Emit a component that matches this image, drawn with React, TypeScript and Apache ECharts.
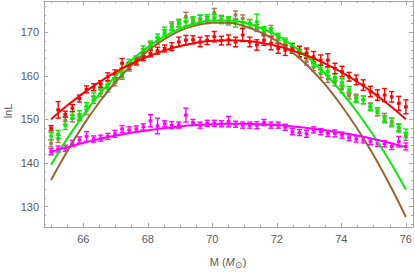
import React, { useEffect, useRef } from "react";
import * as echarts from "echarts";

// x positions of the measured points
const xs = [65.0, 65.22, 65.44, 65.66, 65.88, 66.1, 66.32, 66.54, 66.76, 66.98, 67.2, 67.42, 67.64, 67.86, 68.08, 68.3, 68.52, 68.74, 68.96, 69.18, 69.4, 69.62, 69.84, 70.06, 70.28, 70.5, 70.72, 70.94, 71.16, 71.38, 71.6, 71.82, 72.04, 72.26, 72.48, 72.7, 72.92, 73.14, 73.36, 73.58, 73.8, 74.02, 74.24, 74.46, 74.68, 74.9, 75.12, 75.34, 75.56, 75.78, 76.0];

const redY = [148.0, 152.2, 151.2, 152.6, 154.8, 156.9, 157.4, 158.1, 159.8, 160.5, 162.9, 162.3, 163.3, 164.4, 165.2, 165.8, 166.3, 166.7, 167.8, 168.2, 168.3, 167.8, 168.2, 169.0, 168.1, 168.3, 167.8, 169.4, 167.8, 167.1, 168.2, 167.5, 166.3, 165.9, 166.3, 165.6, 165.2, 164.4, 163.6, 163.6, 161.7, 161.0, 159.8, 159.1, 157.9, 156.4, 155.6, 155.6, 155.2, 153.7, 152.9];
const redE = [0.6, 1.9, 0.7, 0.8, 0.8, 0.8, 0.8, 0.8, 0.9, 0.9, 1.1, 0.8, 0.8, 0.9, 0.8, 0.8, 0.8, 0.9, 1.1, 1.1, 0.9, 1.1, 1.0, 1.2, 1.0, 1.1, 1.1, 1.5, 1.1, 1.2, 1.2, 1.5, 1.1, 1.2, 1.1, 1.2, 1.2, 1.2, 1.2, 1.5, 1.2, 1.2, 1.0, 1.1, 1.2, 1.2, 1.2, 1.5, 1.2, 1.6, 1.6];

const greenY = [146.2, 146.6, 148.6, 151.0, 151.0, 153.1, 155.2, 156.8, 157.9, 159.2, 160.4, 163.0, 163.8, 166.0, 167.2, 168.8, 170.3, 171.2, 172.0, 172.4, 172.8, 173.2, 173.3, 173.2, 172.8, 172.8, 172.1, 171.7, 172.1, 172.4, 170.5, 170.1, 169.0, 167.8, 166.7, 165.9, 165.2, 163.0, 161.7, 161.0, 159.7, 158.5, 156.8, 154.7, 154.5, 152.8, 151.8, 150.1, 149.3, 148.0, 146.8];
const greenE = [0.8, 0.9, 0.9, 0.8, 1.0, 0.8, 0.9, 0.8, 0.8, 0.9, 0.8, 0.8, 0.8, 0.9, 0.8, 0.8, 0.9, 0.8, 0.8, 0.9, 0.8, 0.8, 0.8, 0.9, 0.8, 0.8, 0.9, 0.8, 0.9, 1.8, 0.8, 0.9, 0.8, 0.9, 0.8, 0.8, 0.9, 0.8, 0.9, 0.9, 0.8, 0.9, 0.8, 0.8, 0.9, 0.8, 0.9, 0.8, 1.0, 0.9, 1.0];

const brownY = [144.5, 145.5, 149.8, 150.2, 150.5, 152.0, 154.5, 156.0, 157.2, 158.5, 160.0, 162.0, 163.5, 165.5, 166.8, 168.0, 169.8, 171.5, 172.2, 173.6, 172.5, 173.0, 172.8, 174.5, 173.0, 172.5, 174.0, 173.2, 172.0, 171.0, 170.1, 170.8, 168.5, 167.5, 166.0, 165.2, 163.3, 162.0, 160.5, 159.3, 158.5, 157.0, 155.5, 155.0, 154.5, 153.0, 151.6, 150.5, 149.5, 148.2, 146.1];
const brownE = [0.8, 0.8, 0.9, 0.8, 0.8, 0.9, 0.8, 0.8, 0.9, 0.8, 0.8, 0.9, 0.8, 0.8, 0.9, 0.8, 0.8, 0.9, 0.8, 1.0, 0.8, 0.9, 0.8, 1.0, 0.9, 0.8, 0.9, 0.8, 0.9, 0.8, 0.9, 0.8, 0.9, 0.8, 0.8, 0.9, 0.8, 0.8, 0.9, 0.8, 0.8, 0.9, 0.8, 0.8, 0.9, 0.8, 0.8, 0.9, 0.8, 0.8, 0.9];

const magY = [142.6, 143.2, 143.4, 144.5, 145.3, 146.1, 145.5, 145.7, 146.1, 146.7, 147.8, 147.6, 147.8, 148.3, 149.7, 148.5, 149.0, 148.7, 148.7, 151.0, 149.3, 148.7, 149.1, 149.1, 149.0, 149.5, 148.9, 148.7, 148.7, 148.7, 149.3, 148.7, 148.7, 148.2, 147.2, 147.0, 146.7, 147.6, 147.2, 146.8, 146.8, 146.4, 145.8, 145.5, 145.3, 144.9, 144.5, 144.4, 143.8, 144.9, 143.8];
const magE = [0.7, 0.7, 0.7, 0.7, 0.7, 1.1, 0.7, 0.7, 0.7, 0.8, 0.8, 0.7, 0.7, 0.7, 1.4, 1.8, 0.7, 0.8, 0.7, 1.6, 0.7, 0.7, 0.7, 0.7, 0.7, 1.2, 0.7, 0.7, 0.7, 0.8, 0.7, 0.7, 0.7, 0.7, 0.7, 0.7, 0.8, 0.7, 0.7, 0.7, 0.8, 0.7, 0.7, 0.7, 0.7, 0.7, 0.7, 0.7, 0.7, 1.2, 0.8];

// fitted curves
const fitX = [65, 65.5, 66, 66.5, 67, 67.5, 68, 68.5, 69, 69.5, 70, 70.5, 71, 71.5, 72, 72.5, 73, 73.5, 74, 74.5, 75, 75.5, 76];
const redFit = [150.05, 153.2, 156.05, 158.6, 160.85, 162.8, 164.45, 165.8, 166.85, 167.6, 168.05, 168.2, 168.05, 167.6, 166.85, 165.8, 164.45, 162.8, 160.85, 158.6, 156.05, 153.2, 150.05];
const greenFit = [139.6, 145.6, 151.0, 155.8, 160.0, 163.6, 166.6, 169.0, 170.85, 172.1, 172.7, 172.7, 172.2, 171.0, 169.3, 166.9, 164.0, 160.5, 156.3, 151.6, 146.3, 140.4, 133.9];
const brownFit = [136.1, 142.7, 148.7, 154.0, 158.6, 162.5, 165.8, 168.4, 170.4, 171.6, 172.2, 172.2, 171.4, 170.0, 168.0, 165.3, 162.0, 158.0, 153.2, 147.8, 141.8, 135.0, 127.6];
const magFit = [142.6, 143.65, 144.6, 145.5, 146.3, 146.95, 147.5, 148.0, 148.4, 148.7, 148.9, 149.0, 149.0, 148.9, 148.7, 148.4, 148.0, 147.5, 146.95, 146.3, 145.5, 144.6, 143.65];

const xMajor = [66, 68, 70, 72, 74, 76];
const xMinor = [65, 65.5, 66.5, 67, 67.5, 68.5, 69, 69.5, 70.5, 71, 71.5, 72.5, 73, 73.5, 74.5, 75, 75.5];
const yMajor = [130, 140, 150, 160, 170];
const yMinor = [126, 128, 132, 134, 136, 138, 142, 144, 146, 148, 152, 154, 156, 158, 162, 164, 166, 168, 172, 174, 176];

const XMIN = 64.78, XMAX = 76.22, YMIN = 125.3, YMAX = 177.2;

const FRAME = "#a6a6a6";
const LABEL = "#5a5a5a";
const FONT = "Liberation Sans";

const RED = "#ff0000", GREEN = "#00f000", BROWN = "#996633", MAG = "#ff00ff";

function errSeries(name: string, ys: number[], es: number[], color: string) {
  return {
    type: "custom",
    name,
    xAxisIndex: 0,
    yAxisIndex: 0,
    encode: { x: 0, y: 1 },
    data: xs.map((x, i) => [x, ys[i], es[i]]),
    renderItem: (params: any, api: any) => {
      const x = api.value(0), y = api.value(1), e = api.value(2);
      const c = api.coord([x, y]);
      const hi = api.coord([x, y + e]);
      const lo = api.coord([x, y - e]);
      const w = 2.6;
      const ls = { stroke: color, lineWidth: 1.4 };
      return {
        type: "group",
        children: [
          { type: "line", shape: { x1: c[0], y1: hi[1], x2: c[0], y2: lo[1] }, style: ls },
          { type: "line", shape: { x1: c[0] - w, y1: hi[1], x2: c[0] + w, y2: hi[1] }, style: ls },
          { type: "line", shape: { x1: c[0] - w, y1: lo[1], x2: c[0] + w, y2: lo[1] }, style: ls },
          { type: "rect", shape: { x: c[0] - 1.9, y: c[1] - 1.5, width: 3.8, height: 3.0 }, style: { fill: color } },
        ],
      };
    },
    z: 2,
  };
}

function fitSeries(name: string, ys: number[], color: string) {
  return {
    type: "line",
    name,
    xAxisIndex: 0,
    yAxisIndex: 0,
    data: fitX.map((x, i) => [x, ys[i]]),
    smooth: 0.4,
    showSymbol: false,
    symbol: "none",
    lineStyle: { color, width: 2 },
    z: 3,
  };
}

function xAx(position: string, vals: number[], len: number, labels: boolean, line: boolean) {
  return {
    type: "value",
    position,
    min: XMIN,
    max: XMAX,
    axisLine: { show: line, onZero: false, lineStyle: { color: FRAME, width: 1 } },
    axisTick: { show: true, inside: true, length: len, customValues: vals, lineStyle: { color: FRAME } },
    axisLabel: labels
      ? { show: true, customValues: vals, color: LABEL, fontSize: 11, fontFamily: FONT, margin: 6 }
      : { show: false },
    splitLine: { show: false },
  };
}
function yAx(position: string, vals: number[], len: number, labels: boolean, line: boolean) {
  return {
    type: "value",
    position,
    min: YMIN,
    max: YMAX,
    axisLine: { show: line, onZero: false, lineStyle: { color: FRAME, width: 1 } },
    axisTick: { show: true, inside: true, length: len, customValues: vals, lineStyle: { color: FRAME } },
    axisLabel: labels
      ? { show: true, customValues: vals, color: LABEL, fontSize: 11, fontFamily: FONT, margin: 5 }
      : { show: false },
    splitLine: { show: false },
  };
}

export default function App() {
  const ref = useRef<HTMLDivElement>(null);
  useEffect(() => {
    if (!ref.current) return;
    const chart = echarts.init(ref.current, undefined, { renderer: "svg" });
    chart.setOption({
      animation: false,
      backgroundColor: "#ffffff",
      grid: { left: 44, right: 2, top: 1, bottom: 45, containLabel: false },
      xAxis: [
        xAx("bottom", xMajor, 4, true, true),
        xAx("bottom", xMinor, 2, false, false),
        xAx("top", xMajor, 4, false, true),
        xAx("top", xMinor, 2, false, false),
      ],
      yAxis: [
        yAx("left", yMajor, 4, true, true),
        yAx("left", yMinor, 2, false, false),
        yAx("right", yMajor, 4, false, true),
        yAx("right", yMinor, 2, false, false),
      ],
      series: [
        errSeries("brown", brownY, brownE, "#a47a50"),
        errSeries("green", greenY, greenE, GREEN),
        errSeries("red", redY, redE, RED),
        errSeries("magenta", magY, magE, MAG),
        fitSeries("brownFit", brownFit, BROWN),
        fitSeries("greenFit", greenFit, GREEN),
        fitSeries("redFit", redFit, RED),
        fitSeries("magFit", magFit, MAG),
      ],
      graphic: [
        {
          type: "text",
          x: 8,
          y: 111,
          rotation: Math.PI / 2,
          style: { text: "lnL", fill: LABEL, font: `11px "${FONT}"`, align: "center", verticalAlign: "middle" },
        },
        {
          type: "text",
          x: 228,
          y: 262,
          style: {
            text: "M ({i|M}{s|⊙})",
            fill: LABEL,
            font: `11px "${FONT}"`,
            align: "center",
            verticalAlign: "middle",
            rich: {
              i: { fontStyle: "italic", fontSize: 11, fontFamily: FONT, fill: LABEL, color: LABEL },
              s: { fontSize: 9, fontFamily: FONT, color: LABEL, padding: [6, 0, 0, 0] },
            },
          },
        },
      ],
    });
    return () => chart.dispose();
  }, []);
  return <div ref={ref} style={{ position: "absolute", left: 0, top: 0, width: 415, height: 272 }} />;
}
